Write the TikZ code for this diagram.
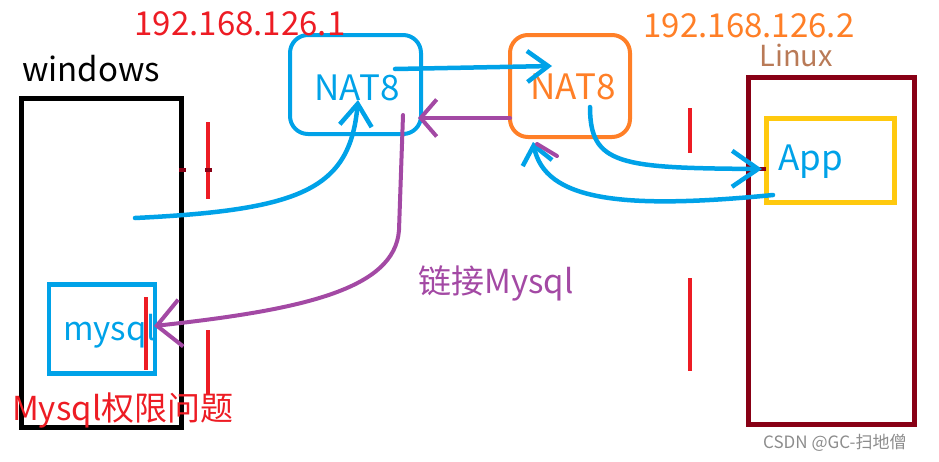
\documentclass[tikz,border=0pt]{standalone}
\usepackage{fontspec}
\setmainfont{Noto Sans CJK SC}
\usepackage{xcolor}
\usetikzlibrary{arrows.meta}

\definecolor{netblue}{RGB}{0,162,232}
\definecolor{natorange}{RGB}{255,127,39}
\definecolor{cutred}{RGB}{237,28,36}
\definecolor{linkpurple}{RGB}{163,73,164}
\definecolor{hostred}{RGB}{136,0,21}
\definecolor{appyellow}{RGB}{255,201,14}
\definecolor{linuxbrown}{RGB}{185,122,87}

\begin{document}
\begin{tikzpicture}[x=1pt, y=-1pt, font=\fontsize{33}{33}\selectfont,
  hostbox/.style={draw, line width=5pt, minimum width=#1},
  natbox/.style={draw, rounded corners=18pt, line width=4pt},
  lbl/.style={inner sep=0pt, anchor=base},
  nattxt/.style={lbl, font=\fontsize{35}{35}\selectfont},
  wire/.style={line width=4.5pt, line cap=round, draw=netblue},
  back/.style={line width=4pt, line cap=round, draw=linkpurple},
  cut/.style={line width=4pt, draw=cutred},
  tick/.style={fill=hostred, minimum width=7pt, minimum height=4pt, inner sep=0pt}]

\useasboundingbox (0,0) rectangle (939,461);

% hosts and NAT boxes
\node[hostbox=160pt, minimum height=329pt] (win) at (101,263) {};
\node[hostbox=166pt, draw=hostred, minimum height=347pt] (lnx) at (831.5,250.5) {};
\node[natbox, draw=netblue, minimum width=131pt, minimum height=99pt] (natl) at (355.5,84.5) {};
\node[natbox, draw=natorange, minimum width=120pt, minimum height=102pt] (natr) at (570,86) {};
\node[draw=appyellow, line width=4.5pt, minimum width=128pt, minimum height=84pt] (app) at (830.5,160.5) {};
\node[draw=netblue, line width=4.5pt, minimum width=106pt, minimum height=89pt] (db) at (102,329) {};

% texts
\node[lbl, text=cutred] (ipl) at (240,35) {192.168.126.1};
\node[lbl, text=natorange] (ipr) at (749,37) {192.168.126.2};
\node[lbl] (wintxt) at (91,81) {windows};
\node[lbl, text=linuxbrown, font=\fontsize{29}{29}\selectfont] (lnxtxt) at (796,66) {Linux};
\node[nattxt, text=netblue] (natltxt) at (357,100) {NAT8};
\node[nattxt, text=natorange] (natrtxt) at (573,99) {NAT8};
\node[lbl, text=netblue, font=\fontsize{35}{35}\selectfont] (apptxt) at (811,170) {App};
\node[lbl, anchor=base west, text=netblue] (dbtxt) at (63,340) {mysql};
\node[lbl, anchor=base west, text=cutred] (errtxt) at (12,420) {Mysql权限问题};
\node[lbl, anchor=base west, text=linkpurple] (linktxt) at (418,293) {链接Mysql};
\node[lbl, anchor=base west, text=black!45, font=\fontsize{17}{17}\selectfont] (mark) at (763,448) {CSDN @GC-扫地僧};

% connector ends
\coordinate (winout) at (135,218);
\coordinate (natlin) at (358,100);
\coordinate (natlout) at (395,69);
\coordinate (natrin) at (552,66);
\coordinate (natrout) at (590,107);
\coordinate (appin) at (762,169);
\coordinate (appout) at (773,195);
\coordinate (natrback) at (533,142);
\coordinate (natrleft) at (510,118);
\coordinate (natlback) at (418,118);
\coordinate (natldown) at (403,115);
\coordinate (natlbend) at (399,230);
\coordinate (dbin) at (154,326);

% red cuts
\draw[cut] (208,122) -- (208,199);
\draw[cut] (208,330) -- (208,395);
\draw[cut] (690,108) -- (690,153);
\draw[cut] (690,278) -- (690,371);
\node[tick] (tk1) at (182,170) {};
\node[tick] (tk2) at (208,170) {};
\draw[hostred, line width=4pt] (744,169) -- (766,169);

% flows
\draw[wire, -{Straight Barb[length=22pt, width=32pt]}] (winout) .. controls (300,210) and (350,190) .. (natlin);
\draw[wire, -{Straight Barb[length=21pt, width=31pt]}] (natlout) -- (natrin);
\draw[wire, -{Straight Barb[length=26pt, width=36pt]}] (natrout) .. controls (590,165) and (620,168) .. (appin);
\draw[wire, -{Straight Barb[length=18pt, width=30pt]}] (appout) .. controls (620,210) and (545,200) .. (natrback);
\draw[back, -{Straight Barb[length=16pt, width=37pt]}] (natrleft) -- (natlback);
\draw[back, -{Straight Barb[length=24pt, width=47pt]}] (natldown) -- (natlbend) .. controls (395,290) and (300,310) .. (dbin);
\draw[back] (537,144) -- (557,156);
\draw[cut] (145.5,297) -- (145.5,370);
\end{tikzpicture}
\end{document}
